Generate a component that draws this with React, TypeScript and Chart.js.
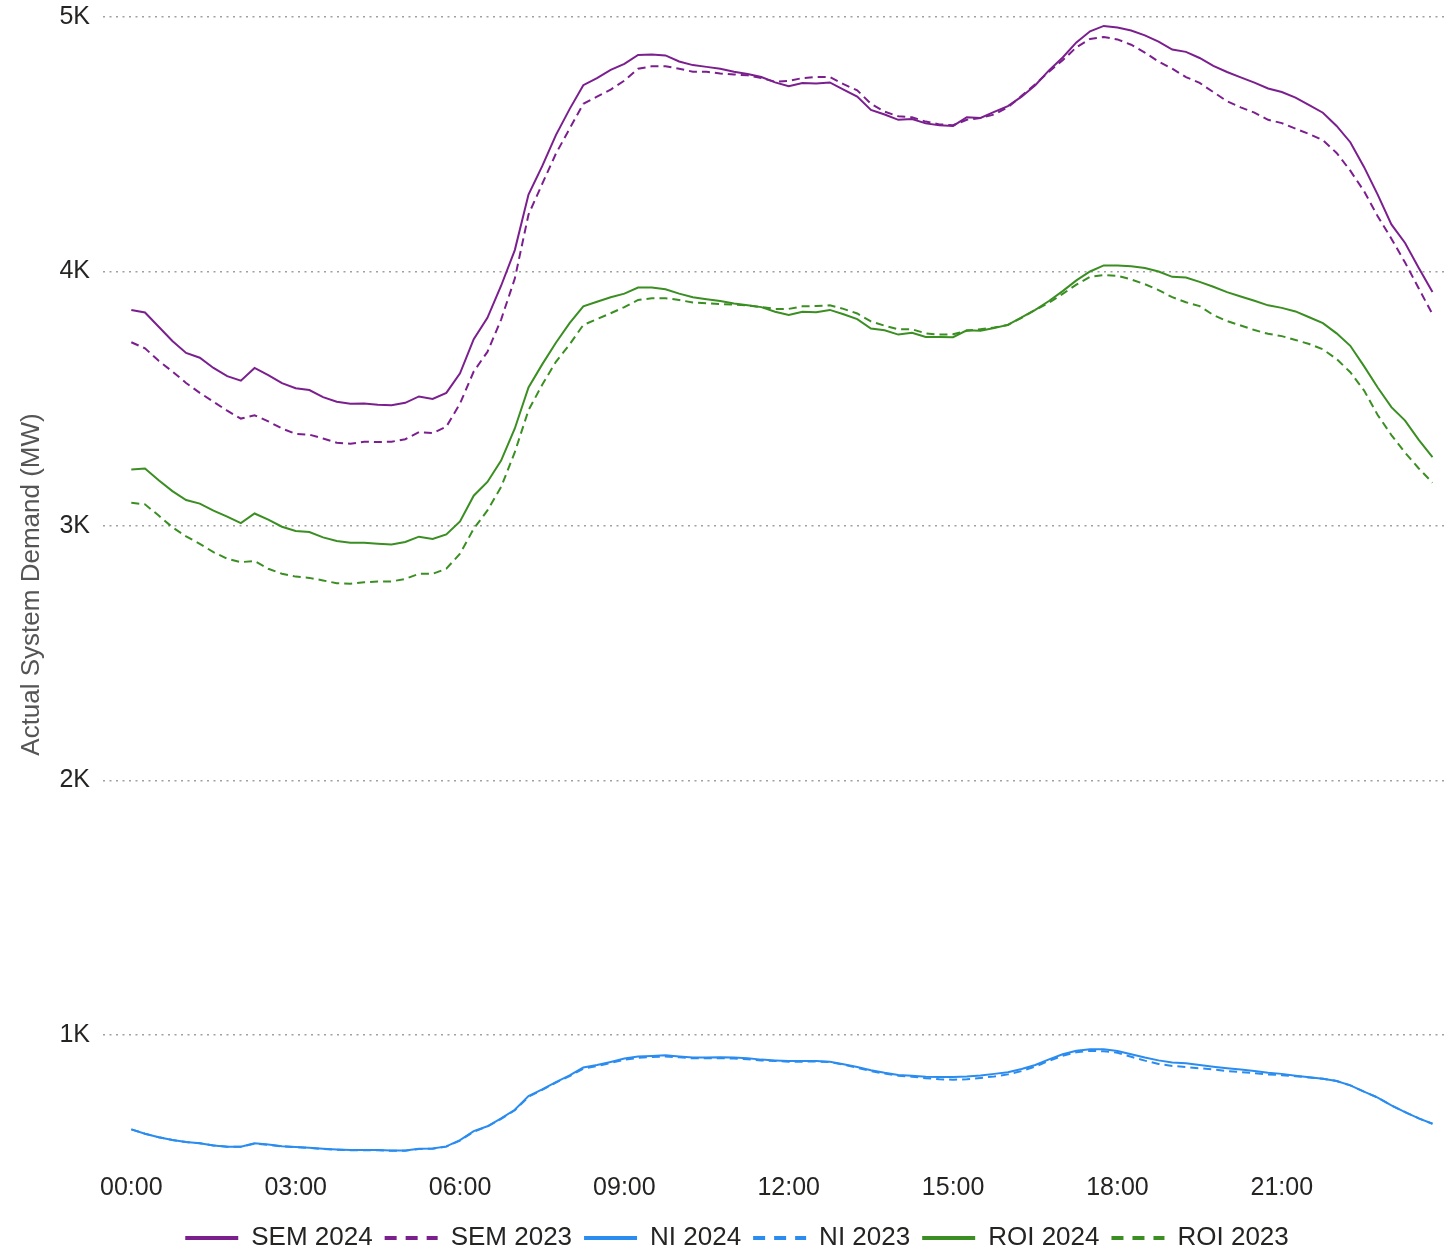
import React, { useEffect, useRef } from "react";
import { Chart, registerables } from "chart.js";

Chart.register(...registerables);

// x categories: 15-minute intervals over the day (index i -> i*15 minutes)
const intervalMinutes = 15;
const timeTickLabels = ["00:00", "03:00", "06:00", "09:00", "12:00", "15:00", "18:00", "21:00"];
const yTickValues = [1000, 2000, 3000, 4000, 5000];

const seriesNames = ["SEM 2024", "SEM 2023", "NI 2024", "NI 2023", "ROI 2024", "ROI 2023"];

const sem2024 = [
  3849, 3839, 3783, 3727, 3680, 3661, 3621, 3589, 3571, 3621, 3593, 3561, 3541, 3534, 3506, 3488,
  3480, 3481, 3476, 3474, 3484, 3509, 3499, 3523, 3600, 3734, 3818, 3944, 4084, 4302, 4414, 4536,
  4638, 4732, 4760, 4792, 4816, 4851, 4853, 4849, 4825, 4811, 4804, 4797, 4785, 4776, 4764, 4743,
  4728, 4741, 4739, 4743, 4715, 4687, 4635, 4617, 4596, 4599, 4582, 4575, 4572, 4606, 4603, 4627,
  4650, 4687, 4732, 4790, 4841, 4900, 4944, 4965, 4959, 4947, 4928, 4903, 4872, 4863, 4839, 4808,
  4784, 4763, 4742, 4719, 4705, 4683, 4654, 4624, 4572, 4508, 4411, 4302, 4185, 4112, 4014, 3919,
];

const sem2023 = [
  3722, 3698, 3649, 3607, 3562, 3523, 3488, 3453, 3422, 3435, 3411, 3383, 3362, 3359, 3344, 3327,
  3323, 3331, 3330, 3331, 3341, 3369, 3365, 3390, 3481, 3607, 3684, 3811, 3972, 4224, 4344, 4463,
  4561, 4659, 4687, 4715, 4750, 4797, 4806, 4806, 4797, 4785, 4785, 4778, 4774, 4771, 4760, 4746,
  4749, 4760, 4764, 4764, 4736, 4712, 4659, 4628, 4610, 4606, 4589, 4578, 4575, 4596, 4603, 4617,
  4645, 4690, 4736, 4785, 4830, 4881, 4914, 4921, 4912, 4891, 4860, 4825, 4797, 4764, 4741, 4705,
  4669, 4645, 4624, 4596, 4583, 4561, 4540, 4516, 4466, 4396, 4316, 4217, 4129, 4035, 3933, 3832,
];

const ni2024 = [
  629, 612, 598, 587, 579, 574, 566, 561, 561, 574, 569, 563, 560, 557, 553, 550,
  548, 548, 548, 546, 546, 553, 554, 562, 587, 622, 641, 672, 706, 760, 786, 815,
  841, 872, 882, 894, 907, 915, 917, 920, 915, 911, 911, 912, 911, 908, 903, 900,
  898, 898, 898, 895, 885, 874, 861, 851, 843, 840, 836, 835, 835, 837, 841, 847,
  853, 866, 882, 904, 924, 938, 944, 944, 937, 924, 911, 900, 892, 889, 882, 875,
  869, 864, 858, 851, 847, 840, 834, 828, 819, 802, 777, 754, 723, 697, 672, 651,
];

const ni2023 = [
  629, 612, 598, 587, 579, 574, 566, 561, 561, 573, 568, 562, 559, 556, 552, 549,
  547, 547, 547, 545, 545, 552, 553, 561, 585, 620, 640, 670, 704, 757, 784, 813,
  838, 867, 878, 890, 903, 910, 913, 915, 912, 908, 908, 909, 907, 904, 900, 898,
  895, 895, 896, 893, 883, 871, 858, 848, 840, 836, 830, 826, 824, 826, 831, 837,
  845, 858, 876, 898, 918, 932, 938, 936, 930, 914, 899, 886, 878, 874, 869, 864,
  858, 854, 850, 845, 842, 838, 833, 828, 819, 802, 777, 754, 723, 697, 672, 651,
];

const roi2024 = [
  3222, 3226, 3180, 3137, 3102, 3088, 3060, 3037, 3011, 3049, 3025, 2997, 2980, 2976, 2955, 2941,
  2934, 2934, 2930, 2927, 2937, 2958, 2949, 2967, 3018, 3119, 3173, 3257, 3383, 3544, 3635, 3720,
  3797, 3863, 3881, 3899, 3913, 3937, 3937, 3930, 3913, 3899, 3891, 3884, 3874, 3867, 3860, 3842,
  3829, 3842, 3840, 3849, 3832, 3813, 3776, 3769, 3752, 3759, 3743, 3743, 3742, 3769, 3767, 3778,
  3790, 3820, 3849, 3884, 3923, 3965, 4000, 4024, 4024, 4021, 4014, 4000, 3979, 3976, 3959, 3940,
  3919, 3902, 3885, 3867, 3857, 3843, 3820, 3797, 3757, 3708, 3628, 3544, 3467, 3414, 3338, 3271,
];

const roi2023 = [
  3091, 3085, 3041, 2995, 2959, 2930, 2897, 2871, 2858, 2862, 2832, 2812, 2801, 2796, 2786, 2775,
  2773, 2779, 2782, 2782, 2792, 2812, 2812, 2832, 2891, 2989, 3061, 3153, 3290, 3455, 3555, 3645,
  3713, 3790, 3813, 3836, 3860, 3888, 3895, 3895, 3888, 3878, 3875, 3872, 3870, 3867, 3860, 3853,
  3853, 3863, 3864, 3867, 3853, 3835, 3804, 3787, 3773, 3773, 3757, 3752, 3753, 3767, 3773, 3780,
  3790, 3818, 3849, 3877, 3912, 3948, 3979, 3986, 3983, 3969, 3950, 3927, 3899, 3879, 3864, 3829,
  3805, 3788, 3770, 3755, 3746, 3731, 3715, 3694, 3656, 3604, 3533, 3436, 3357, 3288, 3226, 3170,
];

const PURPLE = "#7B1F8F";
const BLUE = "#2B8CF0";
const GREEN = "#3A8E22";
const FONT = "'Liberation Sans', Arial, sans-serif";

export default function App() {
  const canvasRef = useRef<HTMLCanvasElement>(null);

  useEffect(() => {
    const toPoints = (arr: number[]) => arr.map((v, i) => ({ x: i * intervalMinutes, y: v }));
    const tickMinutes = timeTickLabels.map((l) => {
      const [h, m] = l.split(":").map(Number);
      return h * 60 + m;
    });
    const series = [sem2024, sem2023, ni2024, ni2023, roi2024, roi2023];
    const colors = [PURPLE, PURPLE, BLUE, BLUE, GREEN, GREEN];
    const dashed = [false, true, false, true, false, true];

    const chart = new Chart(canvasRef.current!, {
      type: "line",
      data: {
        datasets: series.map((s, k) => ({
          label: seriesNames[k],
          data: toPoints(s),
          borderColor: colors[k],
          backgroundColor: colors[k],
          pointBorderColor: colors[k],
          pointBackgroundColor: colors[k],
          borderWidth: 2,
          borderDash: dashed[k] ? [8, 5] : [],
          pointRadius: 0,
          tension: 0,
          fill: false,
        })),
      },
      options: {
        responsive: true,
        maintainAspectRatio: false,
        animation: false,
        layout: { padding: { top: 17, right: 0, left: 26, bottom: 0 } },
        plugins: {
          tooltip: { enabled: false },
          legend: {
            position: "bottom",
            labels: {
              font: { family: FONT, size: 26 },
              color: "#252423",
              usePointStyle: true,
              pointStyle: "line",
              pointStyleWidth: 53,
              boxWidth: 53,
              padding: 12,
              generateLabels: (c: any) => {
                const items = (Chart.defaults.plugins.legend.labels as any).generateLabels(c);
                items.forEach((it: any) => {
                  const k = it.datasetIndex;
                  it.lineWidth = 4;
                  it.pointStyle = "line";
                  it.strokeStyle = colors[k];
                  it.fillStyle = colors[k];
                  it.lineDash = dashed[k] ? [12, 9] : [];
                });
                return items;
              },
            },
          },
        },
        scales: {
          x: {
            type: "linear",
            min: -31,
            max: 1442,
            grid: { display: false },
            border: { display: false },
            ticks: {
              font: { family: FONT, size: 25 },
              color: "#252423",
              padding: 13,
              maxRotation: 0,
              autoSkip: false,
              callback: (v: any) => {
                const idx = tickMinutes.indexOf(Number(v));
                return idx >= 0 ? timeTickLabels[idx] : "";
              },
            },
            afterBuildTicks: (axis: any) => {
              axis.ticks = tickMinutes.map((v) => ({ value: v }));
            },
            afterFit: (scale: any) => {
              scale.height = 61;
            },
          },
          y: {
            min: 540,
            max: 5000,
            grid: { color: "#a0a0a0", lineWidth: 1.5, drawTicks: false },
            border: { display: false, dash: [2, 4.5] },
            ticks: {
              font: { family: FONT, size: 25 },
              color: "#252423",
              padding: 13,
              callback: (v: any) => Number(v) / 1000 + "K",
            },
            title: {
              display: true,
              text: "Actual System Demand (MW)",
              font: { family: FONT, size: 26 },
              color: "#555555",
              padding: { top: -10, bottom: 0 },
            },
            afterBuildTicks: (axis: any) => {
              axis.ticks = yTickValues.map((v) => ({ value: v }));
            },
            afterFit: (scale: any) => {
              scale.width = 77;
              scale.paddingTop = 0;
              scale.paddingBottom = 0;
            },
          },
        },
      },
    });
    return () => chart.destroy();
  }, []);

  return (
    <div
      style={{
        position: "fixed",
        left: 0,
        top: 0,
        width: 1448,
        height: 1249,
        overflow: "hidden",
        background: "#ffffff",
      }}
    >
      <div style={{ position: "relative", width: 1448, height: 1261 }}>
        <canvas ref={canvasRef} />
      </div>
    </div>
  );
}
